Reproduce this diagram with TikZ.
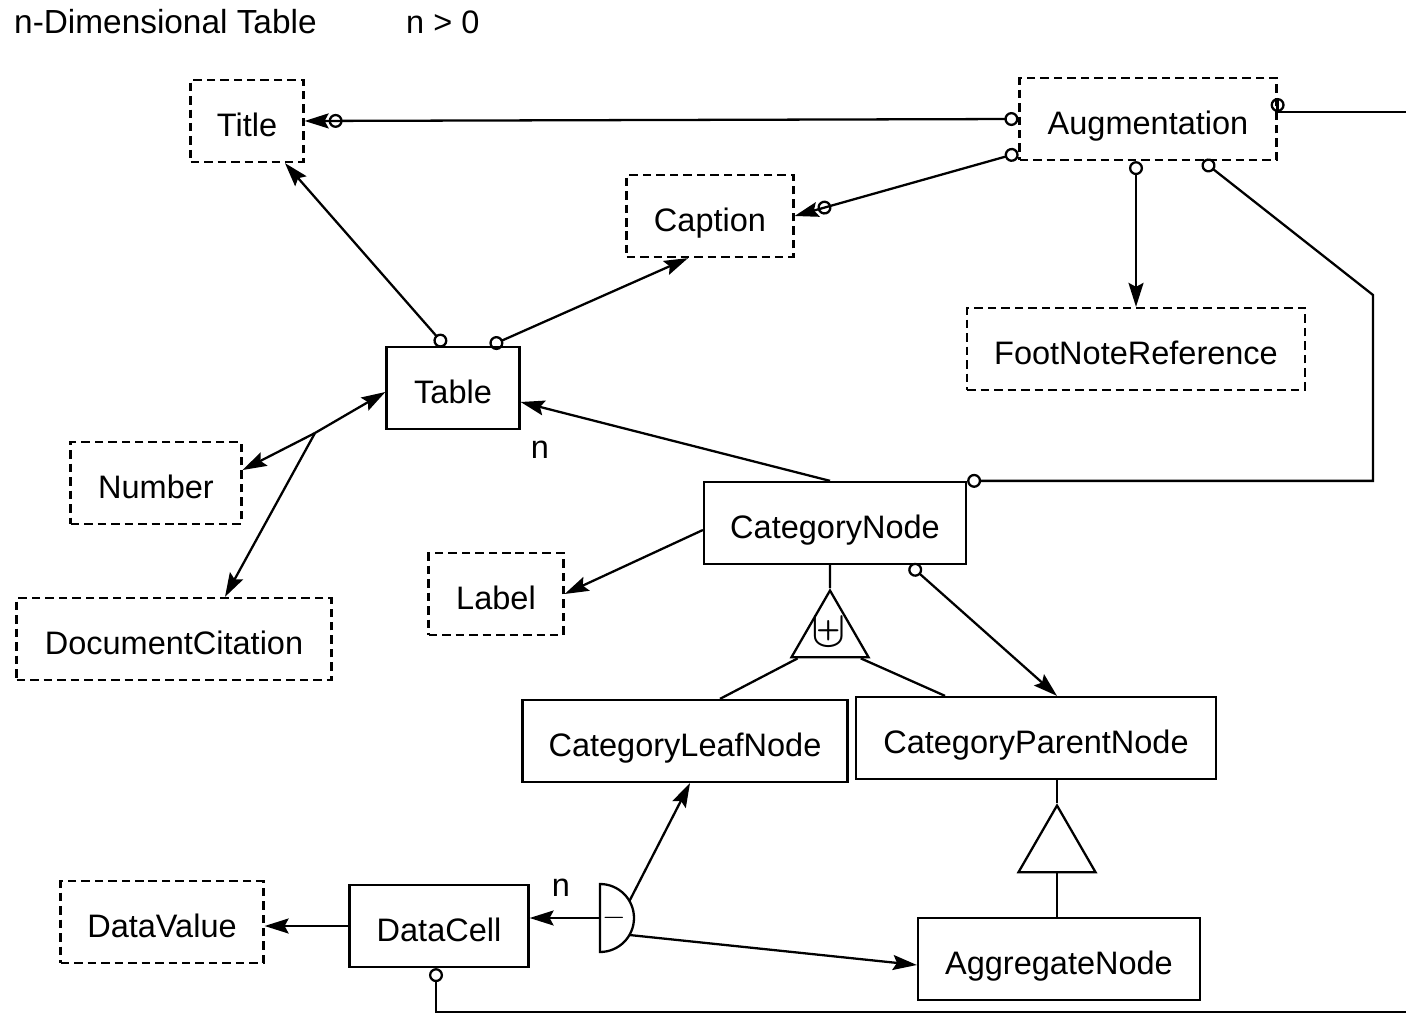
\documentclass[tikz,border=0pt]{standalone}
\usepackage{fontspec}
\setmainfont{Liberation Sans}
\usepackage{amsmath, amssymb}
\usetikzlibrary{arrows.meta,
                shapes.geometric,
                calc,
                positioning}
\tikzstyle{entity} = [draw, line width=1.3pt, minimum height=1.64cm, inner sep=0pt, text height=0.62cm, text depth=0cm, font=\fontsize{18.5}{22}\selectfont]
\tikzstyle{optional} = [entity, dash pattern=on 0.17cm off 0.1cm]
\tikzstyle{arrow} = [line width=1.3pt, -{Stealth[length=0.48cm,width=0.3cm,inset=0.08cm]}]
\tikzstyle{optarrow} = [line width=1.3pt, {Circle[open,length=0.28cm]}-{Stealth[length=0.48cm,width=0.3cm,inset=0.08cm]}]
\tikzstyle{optoptarrow} = [line width=1.3pt, {Circle[open,length=0.28cm]}-{Circle[open,length=0.28cm] Stealth[length=0.48cm,width=0.3cm,inset=0.08cm]}]
\tikzstyle{optline} = [line width=1.3pt, {Circle[open,length=0.28cm]}-]
\tikzstyle{gen} = [draw, line width=1.3pt, regular polygon, regular polygon sides=3, minimum size=1.78cm, inner sep=0pt]

\begin{document}
\begin{tikzpicture}[x=0.02cm, y=-0.02cm, font=\fontsize{18.5}{22}\selectfont]
\useasboundingbox (0,0) rectangle (1406,1016);
% heading
\node[anchor=west, font=\fontsize{19}{22}\selectfont] (head) at (8,22) {n-Dimensional Table};
\node[anchor=west] (cond) at (400,22) {n > 0};

% optional parts
\node[optional, minimum width=2.26cm] (title) at (247,121) {Title};
\node[optional, minimum width=5.14cm] (aug) at (1148,119) {Augmentation};
\node[optional, minimum width=3.34cm] (cap) at (710,216) {Caption};
\node[optional, minimum width=6.76cm] (foot) at (1136,349) {FootNoteReference};
\node[optional, minimum width=3.42cm] (num) at (156,483) {Number};
\node[optional, minimum width=2.70cm] (lab) at (496,594) {Label};
\node[optional, minimum width=6.30cm] (doc) at (174,639) {DocumentCitation};
\node[optional, minimum width=4.06cm] (val) at (162,922) {DataValue};

% main parts
\node[entity, minimum width=2.66cm] (tab) at (453,388) {Table};
\node[entity, minimum width=5.24cm] (cat) at (835,523) {CategoryNode};
\node[entity, minimum width=6.50cm] (leaf) at (685,741) {CategoryLeafNode};
\node[entity, minimum width=7.20cm] (par) at (1036,738) {CategoryParentNode};
\node[entity, minimum width=3.58cm] (cell) at (439,926) {DataCell};
\node[entity, minimum width=5.64cm] (agg) at (1059,959) {AggregateNode};

% generalisations
\node[gen] (uni) at (830,635) {};
\node (unisym) at (829,632) {\scalebox{1.7}{$\uplus$}};
\node[gen] (sub) at (1057,850) {};
\draw[line width=1.3pt] ([xshift=-0.1cm]cat.south) -- (uni.corner 1);
\draw[line width=1.3pt] ($(uni.corner 2)!0.1!(uni.corner 3)$) -- ([xshift=0.7cm]leaf.north);
\draw[line width=1.3pt] ($(uni.corner 2)!0.88!(uni.corner 3)$) -- ([xshift=-1.82cm]par.north);
\draw[line width=1.3pt] (par.south -| sub.corner 1) -- (sub.corner 1);
\draw[line width=1.3pt] (sub.side 2) -- (sub.side 2 |- agg.north);

% augmentation links
\coordinate (bend) at (1373,295);
\coordinate (augout) at (1406,112);
\draw[optoptarrow] (aug.west) -- (title.east);
\draw[optoptarrow] ([yshift=-0.68cm]aug.west) -- (cap.east);
\draw[optarrow] (foot.north |- aug.south) -- (foot.north);
\draw[line width=1.3pt, {Circle[open,length=0.28cm]}-{Circle[open,length=0.28cm]}]
  ([xshift=1.1cm]aug.south) -- (bend) |- (cat.north east);
\draw[optline] ([yshift=0.14cm]aug.east) -- (aug.east |- augout) -- (augout);

% table links
\coordinate (cite) at (315,433);
\draw[optarrow] ([xshift=-0.16cm]tab.north) -- ([xshift=0.76cm]title.south);
\draw[optarrow] ([xshift=0.74cm]tab.north) -- ([xshift=-0.44cm]cap.south);
\draw[arrow] (cite) -- ([yshift=-0.08cm]tab.west);
\draw[arrow] (cite) -- ([yshift=0.26cm]num.east);
\draw[arrow] (cite) -- ([xshift=1.02cm]doc.north);
\draw[arrow] ([xshift=-0.1cm]cat.north) -- ([yshift=-0.28cm]tab.east);
\node (tabn) at (540,450) {n};

% category links
\draw[arrow] ([yshift=-0.14cm]cat.west) -- (lab.east);
\draw[optarrow] ([xshift=1.5cm]cat.south) -- ([xshift=0.42cm]par.north);

% data cell
\coordinate (gate) at (600,918);
\draw[line width=1.3pt] ([yshift=0.68cm]gate) arc[start angle=90, end angle=-90, radius=0.68cm] -- cycle;
\node (minus) at (614,918) {$-$};
\draw[arrow] (gate) -- (gate -| cell.east);
\node (celln) at (561,888) {n};
\draw[arrow] ([shift={(30:0.68cm)}]gate) -- ([xshift=0.1cm]leaf.south);
\draw[arrow] ([shift={(-30:0.68cm)}]gate) -- ([yshift=-0.12cm]agg.west);
\draw[arrow] (cell.west) -- (cell.west -| val.east);
\coordinate (cellout) at (1406,1012);
\draw[optline] ([xshift=-0.06cm]cell.south) |- (cellout);
\end{tikzpicture}
\end{document}
